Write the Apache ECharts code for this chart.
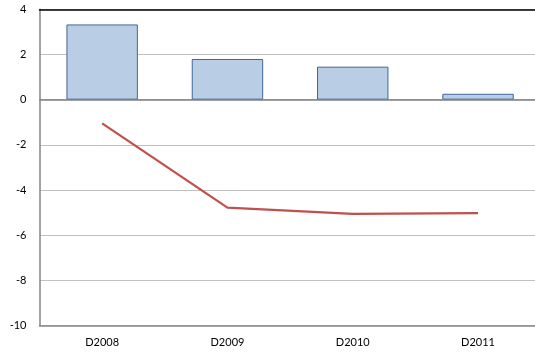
<!DOCTYPE html>
<html>
<head>
<meta charset="utf-8">
<script src="https://cdn.jsdelivr.net/npm/echarts@6/dist/echarts.min.js"></script>
<style>
html,body{margin:0;padding:0;background:#fff;}
#chart{width:535px;height:355px;}
</style>
</head>
<body>
<div id="chart"></div>
<script>
var categories = ['D2008', 'D2009', 'D2010', 'D2011'];
var barValues = [3.33, 1.80, 1.46, 0.26];
var lineValues = [-1.05, -4.78, -5.06, -5.03];
var yTicks = {min: -10, max: 4, interval: 2};

var chart = echarts.init(document.getElementById('chart'), null, {renderer: 'canvas'});
var font = 'Lato, "Open Sans", "Liberation Sans", sans-serif';
chart.setOption({
  animation: false,
  grid: {left: 39.5, top: 9.3, width: 501.2, height: 316.2, containLabel: false, outerBoundsMode: 'none'},
  xAxis: [{
    type: 'category',
    data: categories,
    position: 'bottom',
    axisLine: {onZero: false, lineStyle: {color: '#868686', width: 1.5}},
    axisTick: {show: false},
    axisLabel: {color: '#000', fontSize: 11, fontFamily: font, margin: 11}
  }, {
    type: 'category',
    data: categories,
    position: 'top',
    axisLine: {onZero: false, lineStyle: {color: '#000', width: 1.5}},
    axisTick: {show: false},
    axisLabel: {show: false}
  }],
  yAxis: {
    type: 'value',
    min: yTicks.min, max: yTicks.max, interval: yTicks.interval,
    axisLine: {show: true, lineStyle: {color: '#868686', width: 1.5}},
    axisTick: {show: false},
    axisLabel: {color: '#000', fontSize: 11, fontFamily: font, margin: 13},
    splitLine: {show: true, lineStyle: {color: '#c0c0c0', width: 1}}
  },
  series: [{
    type: 'bar',
    data: barValues,
    barWidth: '57%',
    itemStyle: {color: '#b9cde5', borderColor: '#41679a', borderWidth: 1},
    markLine: {
      silent: true,
      symbol: ['none', 'none'],
      label: {show: false},
      lineStyle: {color: '#7f7f7f', width: 1.5, type: 'solid'},
      data: [{yAxis: 0}]
    }
  }, {
    type: 'line',
    data: lineValues,
    symbol: 'none',
    lineStyle: {color: '#c0504d', width: 2.25}
  }]
});
</script>
</body>
</html>
